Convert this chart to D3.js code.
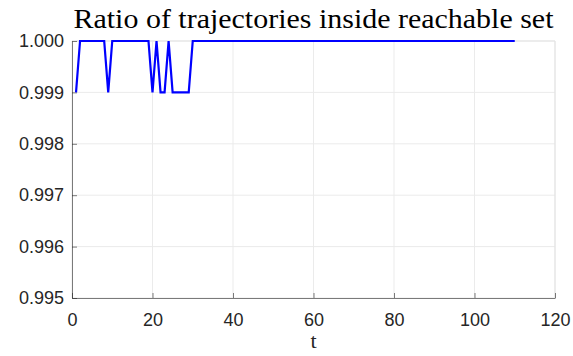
<!DOCTYPE html>
<html>
<head>
<meta charset="utf-8">
<script src="https://cdn.jsdelivr.net/npm/d3@7"></script>
<style>
  body { margin: 0; background: #fff; }
  svg { display: block; }
</style>
</head>
<body>
<div id="chart"></div>
<script>
// time steps and ratio of trajectories inside the reachable set
const tValues = [
    1, 2, 3, 4, 5, 6, 7, 8, 9, 10,
    11, 12, 13, 14, 15, 16, 17, 18, 19, 20,
    21, 22, 23, 24, 25, 26, 27, 28, 29, 30,
    31, 32, 33, 34, 35, 36, 37, 38, 39, 40,
    41, 42, 43, 44, 45, 46, 47, 48, 49, 50,
    51, 52, 53, 54, 55, 56, 57, 58, 59, 60,
    61, 62, 63, 64, 65, 66, 67, 68, 69, 70,
    71, 72, 73, 74, 75, 76, 77, 78, 79, 80,
    81, 82, 83, 84, 85, 86, 87, 88, 89, 90,
    91, 92, 93, 94, 95, 96, 97, 98, 99, 100,
    101, 102, 103, 104, 105, 106, 107, 108, 109, 110
];
const ratioValues = [
    0.999, 1, 1, 1, 1, 1, 1, 1, 0.999, 1,
    1, 1, 1, 1, 1, 1, 1, 1, 1, 0.999,
    1, 0.999, 0.999, 1, 0.999, 0.999, 0.999, 0.999, 0.999, 1,
    1, 1, 1, 1, 1, 1, 1, 1, 1, 1,
    1, 1, 1, 1, 1, 1, 1, 1, 1, 1,
    1, 1, 1, 1, 1, 1, 1, 1, 1, 1,
    1, 1, 1, 1, 1, 1, 1, 1, 1, 1,
    1, 1, 1, 1, 1, 1, 1, 1, 1, 1,
    1, 1, 1, 1, 1, 1, 1, 1, 1, 1,
    1, 1, 1, 1, 1, 1, 1, 1, 1, 1,
    1, 1, 1, 1, 1, 1, 1, 1, 1, 1
];
const xTicks = [0, 20, 40, 60, 80, 100, 120];
const yTicks = [0.995, 0.996, 0.997, 0.998, 0.999, 1.000];

const width = 573;
const height = 356;
const margin = { top: 41, right: 18, bottom: 58, left: 72 };

const svg = d3.select("#chart")
    .append("svg")
    .attr("width", width)
    .attr("height", height);

const x = d3.scaleLinear().domain([0, 120]).range([margin.left, width - margin.right]);
const y = d3.scaleLinear().domain([0.995, 1.000]).range([height - margin.bottom, margin.top]);

// grid
svg.append("g")
    .selectAll("line")
    .data(xTicks)
    .enter()
    .append("line")
    .attr("x1", d => x(d)).attr("x2", d => x(d))
    .attr("y1", y(0.995)).attr("y2", y(1.000))
    .attr("stroke", "#ebebeb").attr("stroke-width", 1);

svg.append("g")
    .selectAll("line")
    .data(yTicks)
    .enter()
    .append("line")
    .attr("x1", x(0)).attr("x2", x(120))
    .attr("y1", d => y(d)).attr("y2", d => y(d))
    .attr("stroke", "#ebebeb").attr("stroke-width", 1);

// top and right box edges
svg.append("line")
    .attr("x1", x(0)).attr("x2", x(120))
    .attr("y1", y(1.000)).attr("y2", y(1.000))
    .attr("stroke", "#e3e3e3").attr("stroke-width", 1);
svg.append("line")
    .attr("x1", x(120)).attr("x2", x(120))
    .attr("y1", y(1.000)).attr("y2", y(0.995))
    .attr("stroke", "#e3e3e3").attr("stroke-width", 1);

// axes
const xAxis = svg.append("g")
    .attr("transform", "translate(0," + y(0.995) + ")")
    .call(d3.axisBottom(x).tickValues(xTicks).tickSizeInner(-5).tickSizeOuter(0).tickPadding(15));

const yAxis = svg.append("g")
    .attr("transform", "translate(" + x(0) + ",0)")
    .call(d3.axisLeft(y).tickValues(yTicks).tickFormat(d3.format(".3f")).tickSizeInner(-5).tickSizeOuter(0).tickPadding(8));

[xAxis, yAxis].forEach(ax => {
    ax.select(".domain").attr("stroke", "#262626").attr("stroke-width", 0.6);
    ax.selectAll(".tick line").attr("stroke", "#262626").attr("stroke-width", 0.6);
    ax.selectAll("text")
        .attr("fill", "#262626")
        .style("font-family", "'Liberation Sans', Arial, sans-serif")
        .style("font-size", "18px");
});
xAxis.selectAll("text").attr("dy", "0.71em");

// data line
const line = d3.line()
    .x((d, i) => x(tValues[i]))
    .y(d => y(d));

svg.append("path")
    .datum(ratioValues)
    .attr("fill", "none")
    .attr("stroke", "#0000ff")
    .attr("stroke-width", 2.2)
    .attr("stroke-linejoin", "miter")
    .attr("d", line);

// title and x label
svg.append("text")
    .attr("x", (x(0) + x(120)) / 2)
    .attr("y", 28)
    .attr("text-anchor", "middle")
    .attr("textLength", 480)
    .attr("lengthAdjust", "spacingAndGlyphs")
    .style("font-family", "'Liberation Serif', 'DejaVu Serif', serif")
    .style("font-size", "27px")
    .attr("fill", "#000")
    .text("Ratio of trajectories inside reachable set");

svg.append("text")
    .attr("x", (x(0) + x(120)) / 2)
    .attr("y", 348)
    .attr("text-anchor", "middle")
    .style("font-family", "'Liberation Serif', 'DejaVu Serif', serif")
    .style("font-size", "22px")
    .attr("fill", "#262626")
    .text("t");
</script>
</body>
</html>
